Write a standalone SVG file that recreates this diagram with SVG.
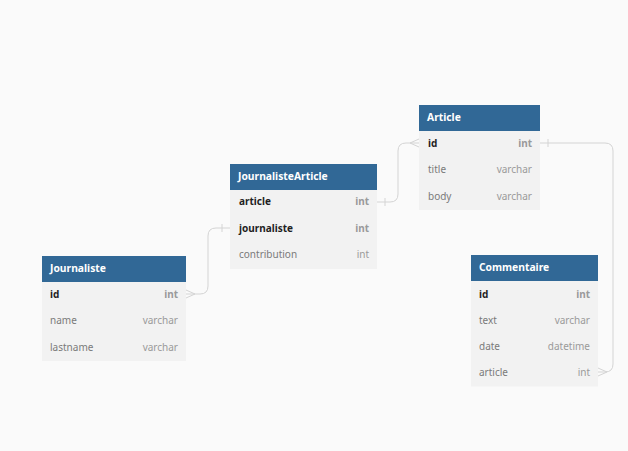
<svg xmlns="http://www.w3.org/2000/svg" width="628" height="451" viewBox="0 0 628 451">
<style>
.hd{fill:#316896}
.body{fill:#f2f2f2}
.ht{font-family:"Noto Sans","Open Sans",sans-serif;font-size:10.3px;font-weight:bold;fill:#ffffff;dominant-baseline:central}
.fk{font-family:"Noto Sans","Open Sans",sans-serif;font-size:10px;font-weight:bold;fill:#1f1f1f;dominant-baseline:central}
.fn{font-family:"Noto Sans","Open Sans",sans-serif;font-size:10px;fill:#7a7a7a;dominant-baseline:central}
.tk{font-family:"Noto Sans","Open Sans",sans-serif;font-size:10px;font-weight:bold;fill:#9a9a9a;dominant-baseline:central;text-anchor:end}
.tn{font-family:"Noto Sans","Open Sans",sans-serif;font-size:10px;fill:#9a9a9a;dominant-baseline:central;text-anchor:end}
.c{fill:none;stroke:#d4d4d4;stroke-width:1}
</style>
<rect width="628" height="451" fill="#fafafa"/>
<g id="connectors">
<path class="c" d="M186,294 H200 Q208,294 208,286 V236 Q208,228 216,228 H230"/>
<path class="c" d="M186,290 L195,294 M186,298 L195,294 M222,224 V232"/>
<path class="c" d="M377,202 H390 Q398,202 398,194 V151 Q398,143 406,143 H419"/>
<path class="c" d="M419,139 L410,143 M419,147 L410,143 M385,198 V206"/>
<path class="c" d="M540,143 H605 Q613,143 613,151 V364 Q613,372 605,372 H598"/>
<path class="c" d="M598,368 L607,372 M598,376 L607,372 M548,139 V147"/>
</g>
<g id="JournalisteArticle">
<rect class="body" x="230" y="164" width="147" height="105"/>
<rect class="hd" x="230" y="164" width="147" height="26"/>
<text class="ht" x="238" y="176">JournalisteArticle</text>
<text class="fk" x="239" y="201">article</text><text class="tk" x="369" y="201">int</text>
<text class="fk" x="239" y="227.5">journaliste</text><text class="tk" x="369" y="227.5">int</text>
<text class="fn" x="239" y="254">contribution</text><text class="tn" x="369" y="254">int</text>
</g>
<g id="Article">
<rect class="body" x="419" y="105" width="121" height="105"/>
<rect class="hd" x="419" y="105" width="121" height="26"/>
<text class="ht" x="427" y="117">Article</text>
<text class="fk" x="428" y="142.5">id</text><text class="tk" x="532" y="142.5">int</text>
<text class="fn" x="428" y="169">title</text><text class="tn" x="532" y="169">varchar</text>
<text class="fn" x="428" y="195.5">body</text><text class="tn" x="532" y="195.5">varchar</text>
</g>
<g id="Journaliste">
<rect class="body" x="42" y="256" width="144" height="105"/>
<rect class="hd" x="42" y="256" width="144" height="26"/>
<text class="ht" x="50" y="268">Journaliste</text>
<text class="fk" x="50" y="293.5">id</text><text class="tk" x="178" y="293.5">int</text>
<text class="fn" x="50" y="320">name</text><text class="tn" x="178" y="320">varchar</text>
<text class="fn" x="50" y="346.5">lastname</text><text class="tn" x="178" y="346.5">varchar</text>
</g>
<g id="Commentaire">
<rect class="body" x="471" y="255" width="127" height="131.5"/>
<rect class="hd" x="471" y="255" width="127" height="26"/>
<text class="ht" x="479" y="267">Commentaire</text>
<text class="fk" x="479" y="293.5">id</text><text class="tk" x="590" y="293.5">int</text>
<text class="fn" x="479" y="319.5">text</text><text class="tn" x="590" y="319.5">varchar</text>
<text class="fn" x="479" y="345.5">date</text><text class="tn" x="590" y="345.5">datetime</text>
<text class="fn" x="479" y="371.5">article</text><text class="tn" x="590" y="371.5">int</text>
</g>
</svg>
